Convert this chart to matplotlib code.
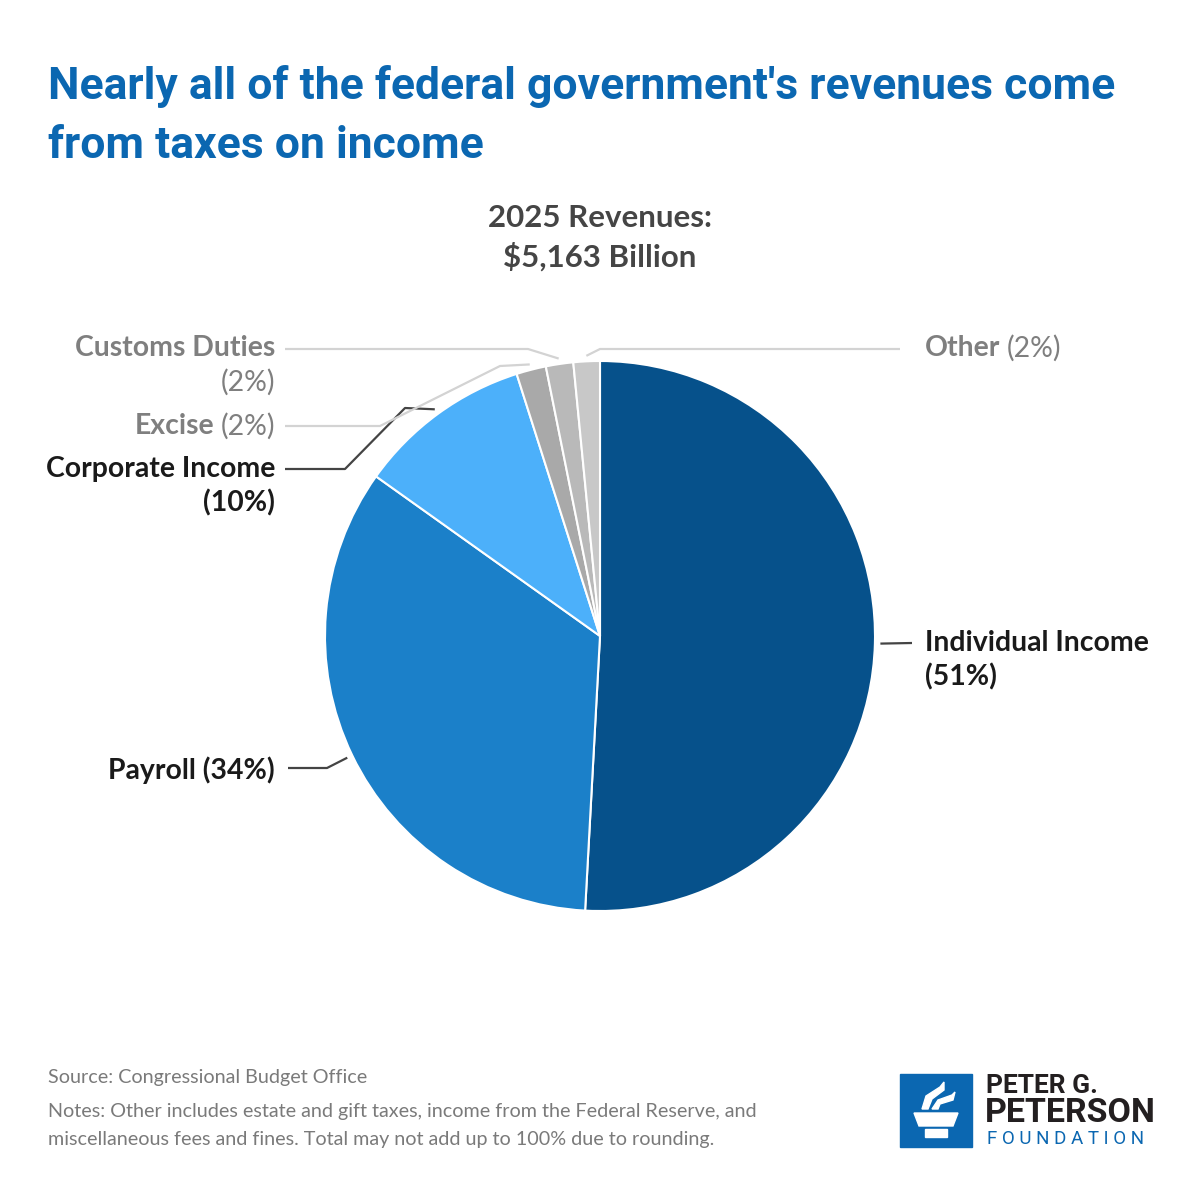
import matplotlib.pyplot as plt
from matplotlib.patches import Rectangle, Polygon
import numpy as np

# 2025 revenues, billions of dollars
categories = ["Individual Income", "Payroll", "Corporate Income", "Excise", "Customs Duties", "Other"]
revenues = [2626, 1755, 529, 90, 83, 80]
colors = ["#06518b", "#1b80c9", "#4cb0fa", "#a9a9a9", "#b9b9b9", "#c8c8c8"]
total_label = "5,163"

plt.rcParams['font.family'] = ['Lato', 'DejaVu Sans']

H = 1200
def Y(y):
    return H - y

fig = plt.figure(figsize=(12, 12), dpi=100)
ax = fig.add_axes([0, 0, 1, 1])

cx, cy, R = 600, 636, 275
wedges, _ = ax.pie(revenues, colors=colors, startangle=90, counterclock=False,
                   center=(cx, Y(cy)), radius=R, frame=True,
                   wedgeprops=dict(edgecolor="white", linewidth=1.5))
ax.set_xlim(0, 1200)
ax.set_ylim(0, 1200)
ax.set_aspect("equal")
ax.axis("off")

total = sum(revenues)
pcts = ["(%d%%)" % round(v / total * 100) for v in revenues]

# anchor points just outside each wedge
anchors = []
for w in wedges:
    mid = np.deg2rad((w.theta1 + w.theta2) / 2)
    anchors.append((cx + 1.02 * R * np.cos(mid), Y(cy) + 1.02 * R * np.sin(mid)))

dark = "#444444"
light = "#d3d3d3"

def line(pts, c):
    xs = [p[0] for p in pts]
    ys = [p[1] for p in pts]
    ax.plot(xs, ys, color=c, lw=1.6, solid_capstyle="butt", zorder=1)

a = anchors
line([a[0], (912, Y(643))], dark)
line([a[1], (327, Y(768)), (288, Y(768))], dark)
line([a[2], (405, Y(408)), (345, Y(469)), (285, Y(469))], dark)
line([a[3], (500, Y(366)), (380, Y(426)), (285, Y(426))], light)
line([a[4], (528, Y(349)), (285, Y(349))], light)
line([a[5], (600, Y(349)), (900, Y(349))], light)

fs = 20.4
black = "#1a1a1a"
grey = "#7f7f7f"

ax.text(925, Y(643), categories[0], fontsize=fs, fontweight="bold", color=black, va="center", ha="left")
ax.text(925, Y(677), pcts[0], fontsize=fs, fontweight="bold", color=black, va="center", ha="left")
ax.text(275, Y(770), categories[1] + " " + pcts[1], fontsize=fs, fontweight="bold", color=black, va="center", ha="right")
ax.text(275, Y(469), categories[2], fontsize=fs, fontweight="bold", color=black, va="center", ha="right")
ax.text(275, Y(503), pcts[2], fontsize=fs, fontweight="bold", color=black, va="center", ha="right")
ax.text(275, Y(348), categories[4], fontsize=fs, fontweight="bold", color=grey, va="center", ha="right")
ax.text(275, Y(382), pcts[4], fontsize=fs, color=grey, va="center", ha="right")

# mixed-weight single-line labels
fig.canvas.draw()
r = fig.canvas.get_renderer()
inv = ax.transData.inverted()

t = ax.text(275, Y(426), pcts[3], fontsize=fs, color=grey, va="center", ha="right")
bb = t.get_window_extent(r)
x0 = inv.transform((bb.x0, bb.y0))[0]
ax.text(x0 - 6, Y(426), categories[3], fontsize=fs, fontweight="bold", color=grey, va="center", ha="right")

t = ax.text(925, Y(348), categories[5], fontsize=fs, fontweight="bold", color=grey, va="center", ha="left")
bb = t.get_window_extent(r)
x1 = inv.transform((bb.x1, bb.y0))[0]
ax.text(x1 + 6, Y(348), pcts[5], fontsize=fs, color=grey, va="center", ha="left")

# title and subtitle
title_font = ['Roboto', 'DejaVu Sans']
ax.text(48, Y(86), "Nearly all of the federal government's revenues come", fontsize=32,
        fontweight="bold", color="#0b67b1", family=title_font, va="center", ha="left")
ax.text(48, Y(146), "from taxes on income", fontsize=32,
        fontweight="bold", color="#0b67b1", family=title_font, va="center", ha="left")
ax.text(600, Y(218), "2025 Revenues:", fontsize=22.5, fontweight="bold", color="#454545", ha="center", va="center")
ax.text(600, Y(257), r"\$" + total_label + " Billion", fontsize=22.5, fontweight="bold", color="#454545", ha="center", va="center")

# footer
ax.text(48, Y(1077), "Source: Congressional Budget Office", fontsize=14.2, color="#7a7a7a", va="center")
ax.text(48, Y(1112), "Notes: Other includes estate and gift taxes, income from the Federal Reserve, and",
        fontsize=14.2, color="#7a7a7a", va="center")
ax.text(48, Y(1139), "miscellaneous fees and fines. Total may not add up to 100% due to rounding.",
        fontsize=14.2, color="#7a7a7a", va="center")

# logo
blue = "#0b67b1"
ax.add_patch(Rectangle((900, Y(1147)), 72, 73, color=blue, zorder=2))
ax.add_patch(Polygon([(914, Y(1113)), (958, Y(1113)), (953, Y(1126)), (919, Y(1126))], color="white", zorder=3))
ax.add_patch(Rectangle((925, Y(1137)), 22, 8, color="white", zorder=3))
ax.add_patch(Polygon([(922, Y(1109)), (926, Y(1096)), (940, Y(1087)), (944, Y(1082)),
                      (944, Y(1090)), (932, Y(1099)), (928, Y(1109))], color="white", zorder=3))
ax.add_patch(Polygon([(932, Y(1109)), (938, Y(1100)), (952, Y(1095)), (955, Y(1092)),
                      (953, Y(1100)), (940, Y(1104)), (938, Y(1109))], color="white", zorder=3))
logo_font = ['Roboto', 'DejaVu Sans']
ax.text(986, Y(1086), "PETER G.", fontsize=19, fontweight="bold", color="#231f20", family=logo_font, va="center")
ax.text(985, Y(1113), "PETERSON", fontsize=24.5, fontweight="bold", color="#231f20", family=logo_font, va="center")
ax.text(987, Y(1139), "F O U N D A T I O N", fontsize=13.5, color=blue, family=logo_font, va="center")

fig.savefig("out.png", dpi=100)
